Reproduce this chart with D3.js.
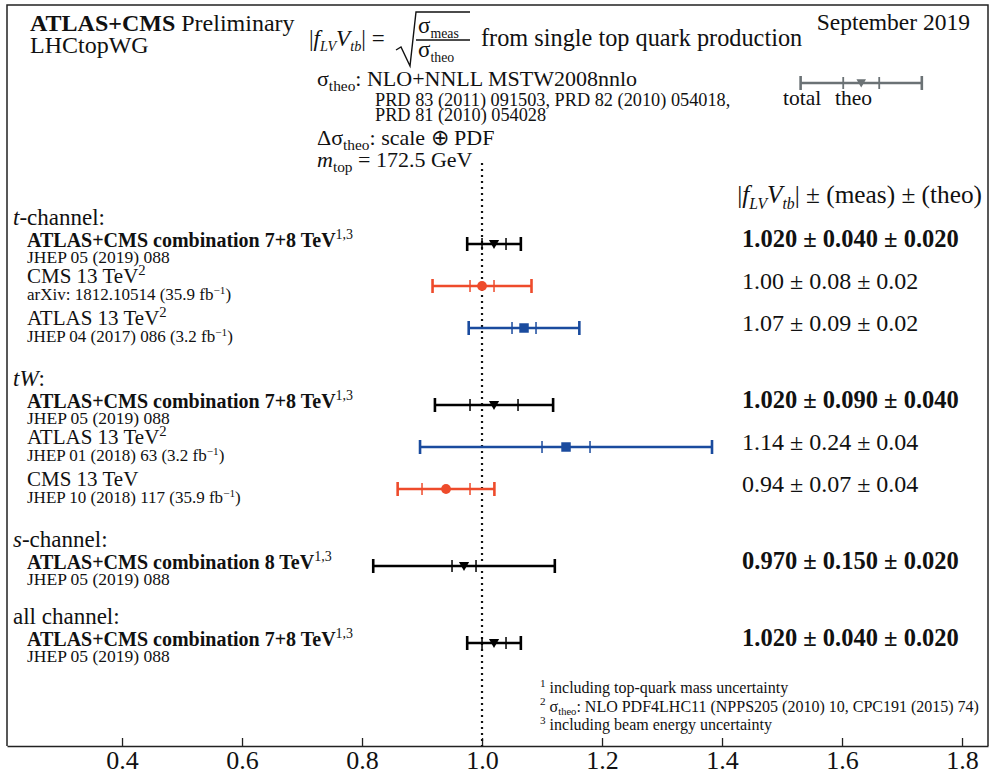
<!DOCTYPE html>
<html>
<head>
<meta charset="utf-8">
<script src="https://cdn.jsdelivr.net/npm/d3@7"></script>
<style>
  body { margin: 0; background: #fff; }
  svg { display: block; font-family: "Liberation Serif", "Times New Roman", serif; }
</style>
</head>
<body>
<div id="chart"></div>
<script>
const groupNames = ["t|-channel:", "tW|:", "s|-channel:", "|all channel:"]  // italic part | roman part
const rowGroup = [0, 0, 0, 1, 1, 1, 2, 3]
const rowLabels = [
  "ATLAS+CMS combination 7+8 TeV", "CMS 13 TeV", "ATLAS 13 TeV",
  "ATLAS+CMS combination 7+8 TeV", "ATLAS 13 TeV", "CMS 13 TeV",
  "ATLAS+CMS combination 8 TeV",
  "ATLAS+CMS combination 7+8 TeV"
]
const rowNotes = ["1,3", "2", "2", "1,3", "2", "", "1,3", "1,3"]
const rowRefs = [
  "JHEP 05 (2019) 088", "arXiv: 1812.10514 (35.9 fb^{−1})", "JHEP 04 (2017) 086 (3.2 fb^{−1})",
  "JHEP 05 (2019) 088", "JHEP 01 (2018) 63 (3.2 fb^{−1})", "JHEP 10 (2018) 117 (35.9 fb^{−1})",
  "JHEP 05 (2019) 088",
  "JHEP 05 (2019) 088"
]
const rowExp = ["comb", "CMS", "ATLAS", "comb", "ATLAS", "CMS", "comb", "comb"]
const central = [1.020, 1.00, 1.07, 1.020, 1.14, 0.94, 0.970, 1.020]
const measErr = [0.040, 0.08, 0.09, 0.090, 0.24, 0.07, 0.150, 0.040]
const theoErr = [0.020, 0.02, 0.02, 0.040, 0.04, 0.04, 0.020, 0.020]
const decimals = [3, 2, 2, 3, 2, 2, 3, 3]

const xTicks = [0.4, 0.6, 0.8, 1.0, 1.2, 1.4, 1.6, 1.8]
const xDomain = [0.2083, 1.8433]
const legendSample = { value: 1.632, total: 0.101, theo: 0.03 }

const footnotes = [
  ["1", "including top-quark mass uncertainty"],
  ["2", "σ_{theo}: NLO PDF4LHC11 (NPPS205 (2010) 10, CPC191 (2015) 74)"],
  ["3", "including beam energy uncertainty"]
]

const colors = { comb: "#000000", CMS: "#ee4b2b", ATLAS: "#1a4b9e" }

const width = 993
const height = 775
const frame = { left: 7, right: 988, top: 5, bottom: 746 }

const svg = d3.select("#chart").append("svg")
  .attr("width", width)
  .attr("height", height)

const xScale = d3.scaleLinear()
  .domain(xDomain)
  .range([frame.left, frame.right])

// rich text helper: parts {t, sub, sup, b, i, s}
function rich(parent, x, y, size, parts, anchor) {
  const t = parent.append("text")
    .attr("x", x).attr("y", y)
    .attr("text-anchor", anchor || "start")
    .style("font-size", size + "px")
    .attr("fill", "#111")
  let shift = 0
  parts.forEach(p => {
    const s = p.sub ? 0.22 * size : p.sup ? -0.38 * size : 0
    const ts = t.append("tspan").attr("dy", s - shift).text(p.t)
    shift = s
    if (p.sub || p.sup) ts.style("font-size", (p.s || 0.66) * size + "px")
    if (p.b) ts.style("font-weight", "bold")
    if (p.i) ts.style("font-style", "italic")
  })
  return t
}

// parse "^{..}" and "_{..}"
function parse(str) {
  const parts = []
  const re = /([\^_])\{([^}]*)\}/g
  let last = 0, m
  while ((m = re.exec(str)) !== null) {
    if (m.index > last) parts.push({ t: str.slice(last, m.index) })
    parts.push(m[1] === "^" ? { t: m[2], sup: true } : { t: m[2], sub: true })
    last = re.lastIndex
  }
  if (last < str.length) parts.push({ t: str.slice(last) })
  return parts
}

// frame + axis
svg.append("path")
  .attr("d", `M${frame.left},${frame.bottom}V${frame.top}H${frame.right}V${frame.bottom}`)
  .attr("fill", "none")
  .attr("stroke", "#222")
  .attr("stroke-width", 1.5)

const xAxis = svg.append("g")
  .attr("transform", `translate(0,${frame.bottom})`)
  .call(d3.axisBottom(xScale)
    .tickValues(xTicks)
    .tickFormat(d3.format(".1f"))
    .tickSize(-8)
    .tickSizeOuter(0)
    .tickPadding(5))
xAxis.select(".domain").attr("stroke", "#222").attr("stroke-width", 1.5)
xAxis.selectAll(".tick line").attr("stroke", "#222").attr("stroke-width", 1.3)
xAxis.selectAll(".tick text")
  .attr("fill", "#111")
  .style("font-size", "26px")
  .style("font-family", "'Liberation Serif', 'Times New Roman', serif")

// reference line at 1
svg.append("line")
  .attr("x1", xScale(1)).attr("x2", xScale(1))
  .attr("y1", 163).attr("y2", frame.bottom)
  .attr("stroke", "#111")
  .attr("stroke-width", 2.2)
  .attr("stroke-dasharray", "2,4")

// header
rich(svg, 30, 31, 24, [{ t: "ATLAS+CMS", b: true }, { t: " Preliminary" }])
rich(svg, 30, 53, 24, [{ t: "LHCtopWG" }])
rich(svg, 970, 30, 23.5, [{ t: "September 2019" }], "end")

const fvtb = [
  { t: "|" }, { t: "f", i: true }, { t: "LV", sub: true, i: true, s: 0.62 },
  { t: "V", i: true }, { t: "tb", sub: true, i: true, s: 0.62 }, { t: "|" }
]
rich(svg, 309, 46, 23, fvtb.concat([{ t: " =" }]))
// radical sign
svg.append("path")
  .attr("d", "M396,50 L401,47 L410,66 L416,12 L470,12")
  .attr("fill", "none").attr("stroke", "#111").attr("stroke-width", 1.4)
svg.append("line")
  .attr("x1", 416).attr("x2", 470).attr("y1", 40).attr("y2", 40)
  .attr("stroke", "#111").attr("stroke-width", 1.3)
rich(svg, 418, 33, 23, [{ t: "σ" }, { t: "meas", sub: true, s: 0.6 }])
rich(svg, 418, 57, 23, [{ t: "σ" }, { t: "theo", sub: true, s: 0.6 }])
rich(svg, 481, 46, 24.3, [{ t: "from single top quark production" }])

rich(svg, 317, 86, 22, [{ t: "σ" }, { t: "theo", sub: true, s: 0.7 }, { t: ": NLO+NNLL MSTW2008nnlo" }])
rich(svg, 375, 106, 18.3, [{ t: "PRD 83 (2011) 091503, PRD 82 (2010) 054018," }])
rich(svg, 375, 121, 18.3, [{ t: "PRD 81 (2010) 054028" }])
rich(svg, 317, 145, 22, [{ t: "Δσ" }, { t: "theo", sub: true, s: 0.7 }, { t: ": scale ⊕ PDF" }])
rich(svg, 317, 167, 22, [{ t: "m", i: true }, { t: "top", sub: true, s: 0.7 }, { t: " = 172.5 GeV" }])

rich(svg, 982, 203, 25.3, fvtb.concat([{ t: " ± (meas) ± (theo)" }]), "end")

// legend sample
const legendY = 83
const lg = svg.append("g").attr("stroke", "#6b7275")
lg.append("line")
  .attr("x1", xScale(legendSample.value - legendSample.total))
  .attr("x2", xScale(legendSample.value + legendSample.total))
  .attr("y1", legendY).attr("y2", legendY)
  .attr("stroke-width", 2.6)
;[-1, 1].forEach(sgn => {
  lg.append("line")
    .attr("x1", xScale(legendSample.value + sgn * legendSample.total))
    .attr("x2", xScale(legendSample.value + sgn * legendSample.total))
    .attr("y1", legendY - 7).attr("y2", legendY + 7)
    .attr("stroke-width", 2.6)
  lg.append("line")
    .attr("x1", xScale(legendSample.value + sgn * legendSample.theo))
    .attr("x2", xScale(legendSample.value + sgn * legendSample.theo))
    .attr("y1", legendY - 6).attr("y2", legendY + 6)
    .attr("stroke-width", 1.8)
})
svg.append("path")
  .attr("d", d3.symbol(d3.symbolTriangle, 40)())
  .attr("transform", `translate(${xScale(legendSample.value)},${legendY - 1}) rotate(180)`)
  .attr("fill", "#6b7275")
rich(svg, 783, 105, 21.5, [{ t: "total" }])
rich(svg, 835, 105, 21.5, [{ t: "theo" }])

// vertical layout of groups and rows
const headerY = []
const rowY = []
let cursor = 225
groupNames.forEach((g, gi) => {
  headerY[gi] = cursor
  cursor += 19
  rowGroup.forEach((rg, i) => {
    if (rg === gi) { rowY[i] = cursor; cursor += 42 }
  })
  cursor += 16
})

groupNames.forEach((g, gi) => {
  const [it, rm] = g.split("|")
  rich(svg, 13, headerY[gi], 23, [{ t: it, i: true }, { t: rm }])
})

const rows = central.map((c, i) => ({
  c, m: measErr[i], th: theoErr[i], tot: Math.sqrt(measErr[i] ** 2 + theoErr[i] ** 2),
  y: rowY[i], exp: rowExp[i], label: rowLabels[i], note: rowNotes[i], ref: rowRefs[i], dec: decimals[i]
}))

rows.forEach(r => {
  const comb = r.exp === "comb"
  const main = [{ t: r.label, b: comb }]
  if (r.note) main.push({ t: r.note, sup: true, s: 0.7 })
  rich(svg, 27, r.y + (comb ? 3 : -3), comb ? 20 : 21, main)
  rich(svg, 27, r.y + (comb ? 19 : 14), comb ? 17.5 : 17, parse(r.ref))
  const val = `${r.c.toFixed(r.dec)} ± ${r.m.toFixed(r.dec)} ± ${r.th.toFixed(r.dec)}`
  rich(svg, 742, r.y + 3, comb ? 24.5 : 24, [{ t: val, b: comb }])
})

// error bars
const bars = svg.append("g")
rows.forEach(r => {
  const col = colors[r.exp]
  const g = bars.append("g").attr("stroke", col)
  g.append("line")
    .attr("x1", xScale(r.c - r.tot)).attr("x2", xScale(r.c + r.tot))
    .attr("y1", r.y).attr("y2", r.y)
    .attr("stroke-width", 2.6)
  ;[-1, 1].forEach(sgn => {
    g.append("line")
      .attr("x1", xScale(r.c + sgn * r.tot)).attr("x2", xScale(r.c + sgn * r.tot))
      .attr("y1", r.y - 7).attr("y2", r.y + 7)
      .attr("stroke-width", 2.6)
    g.append("line")
      .attr("x1", xScale(r.c + sgn * r.th)).attr("x2", xScale(r.c + sgn * r.th))
      .attr("y1", r.y - 6).attr("y2", r.y + 6)
      .attr("stroke-width", 1.5)
  })
  let sym, rot = 0, dy = 0
  if (r.exp === "comb") { sym = d3.symbol(d3.symbolTriangle, 45); rot = 180; dy = -1 }
  else if (r.exp === "CMS") sym = d3.symbol(d3.symbolCircle, 75)
  else sym = d3.symbol(d3.symbolSquare, 90)
  bars.append("path")
    .attr("d", sym())
    .attr("transform", `translate(${xScale(r.c)},${r.y + dy}) rotate(${rot})`)
    .attr("fill", col)
})

// footnotes
footnotes.forEach((f, i) => {
  rich(svg, 540, 693 + i * 18.5, 16, [{ t: f[0], sup: true, s: 0.7 }, { t: " " }].concat(parse(f[1])))
})
</script>
</body>
</html>
